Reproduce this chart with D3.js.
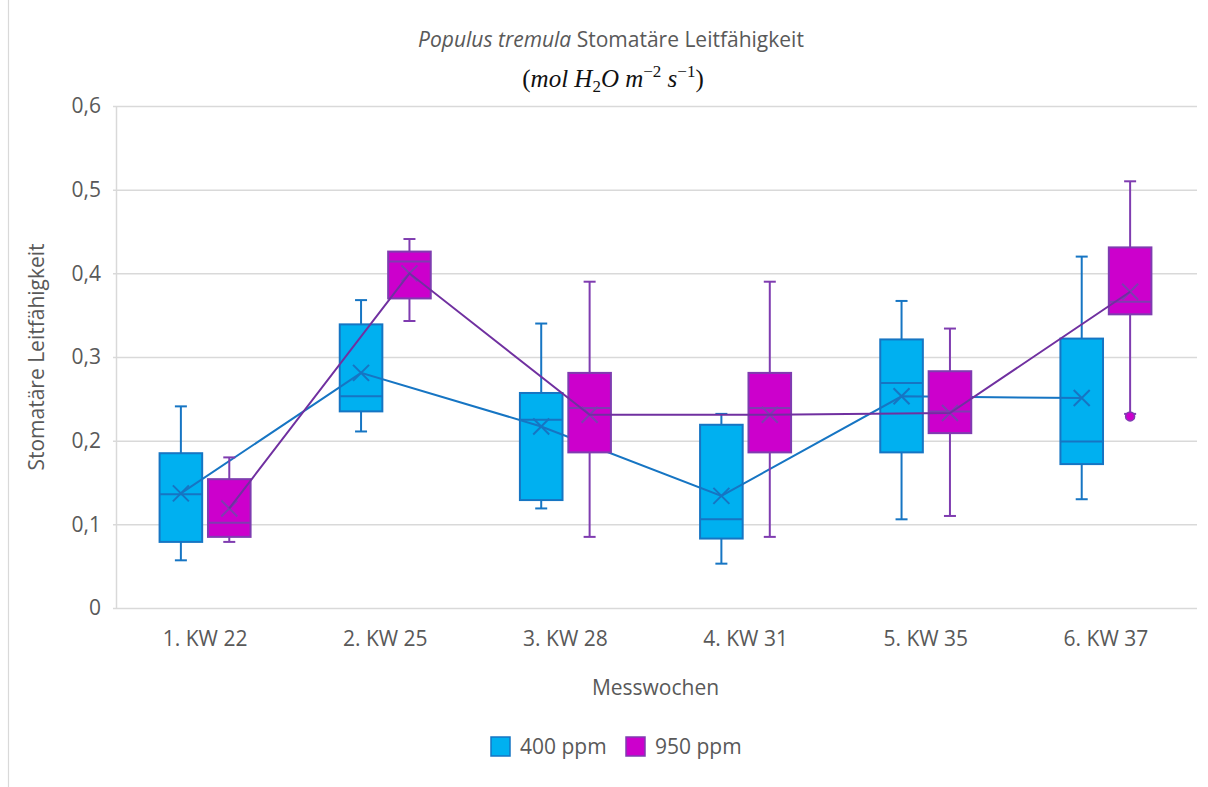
<!DOCTYPE html>
<html>
<head>
<meta charset="utf-8">
<script src="https://cdn.jsdelivr.net/npm/d3@7"></script>
<style>
  html, body { margin: 0; padding: 0; background: #ffffff; }
  svg { display: block; }
  text { font-family: "Open Sans", "Noto Sans", sans-serif; fill: #595959; }
</style>
</head>
<body>
<svg id="chart" width="1208" height="787"></svg>
<script>
// Measurement weeks
const categories = ["1. KW 22", "2. KW 25", "3. KW 28", "4. KW 31", "5. KW 35", "6. KW 37"];
const seriesNames = ["400 ppm", "950 ppm"];
const yTicks = [0, 0.1, 0.2, 0.3, 0.4, 0.5, 0.6];

// 400 ppm: five-number summary and mean per week
const min400    = [0.057, 0.211, 0.119, 0.053, 0.106, 0.130];
const q1_400    = [0.079, 0.235, 0.129, 0.083, 0.186, 0.172];
const median400 = [0.136, 0.253, 0.225, 0.106, 0.269, 0.199];
const q3_400    = [0.185, 0.339, 0.257, 0.219, 0.321, 0.322];
const max400    = [0.241, 0.368, 0.340, 0.232, 0.367, 0.420];
const mean400   = [0.137, 0.281, 0.217, 0.134, 0.253, 0.251];
const outliers400 = [[], [], [], [], [], []];

// 950 ppm
const min950    = [0.079, 0.343, 0.085, 0.085, 0.110, 0.232];
const q1_950    = [0.085, 0.370, 0.186, 0.186, 0.209, 0.351];
const median950 = [0.102, 0.414, 0.239, 0.239, 0.235, 0.366];
const q3_950    = [0.154, 0.426, 0.281, 0.281, 0.283, 0.431];
const max950    = [0.180, 0.441, 0.390, 0.390, 0.334, 0.510];
const mean950   = [0.119, 0.400, 0.231, 0.231, 0.233, 0.378];
const outliers950 = [[], [], [], [], [], [0.229]];

const styles = [
  { fill: "#00B0F0", stroke: "#1675C3", line: "#1675C3" },
  { fill: "#CC00CC", stroke: "#7F3CB0", line: "#7030A0" }
];

const series = [
  { name: seriesNames[0], min: min400, q1: q1_400, med: median400, q3: q3_400, max: max400, mean: mean400, out: outliers400 },
  { name: seriesNames[1], min: min950, q1: q1_950, med: median950, q3: q3_950, max: max950, mean: mean950, out: outliers950 }
];

const svg = d3.select("#chart");
const W = 1208, H = 787;
const plot = { left: 115, right: 1196, top: 106, bottom: 608 };
const FS = 21;

svg.append("rect").attr("width", W).attr("height", H).attr("fill", "#ffffff");
// chart frame edge
svg.append("line").attr("x1", 8.5).attr("x2", 8.5).attr("y1", 0).attr("y2", H)
  .attr("stroke", "#D9D9D9").attr("stroke-width", 1.2);

const x = d3.scaleBand().domain(categories).range([plot.left, plot.right]).paddingInner(0).paddingOuter(0);
const groupW = 91;
const xs = d3.scaleBand().domain(seriesNames).range([0, groupW]).paddingInner(0.12).paddingOuter(0);
const xsOffset = (x.bandwidth() - groupW) / 2;
const y = d3.scaleLinear().domain([0, 0.6]).range([plot.bottom, plot.top]);

const fmt = v => v === 0 ? "0" : d3.format(".1f")(v).replace(".", ",");

// gridlines + y axis
const yAxis = d3.axisLeft(y).tickValues(yTicks).tickFormat(fmt)
  .tickSize(-(plot.right - plot.left + 3)).tickPadding(12);
const gy = svg.append("g").attr("transform", `translate(${plot.left - 2},0)`).call(yAxis);
gy.select(".domain").remove();
gy.selectAll(".tick line").attr("stroke", "#D9D9D9").attr("stroke-width", 1.5);
gy.selectAll(".tick text").attr("font-size", FS).attr("fill", "#595959")
  .style("font-family", "'Open Sans', sans-serif");
// vertical axis line
svg.append("line").attr("x1", plot.left + 1.5).attr("x2", plot.left + 1.5)
  .attr("y1", plot.top).attr("y2", plot.bottom)
  .attr("stroke", "#D9D9D9").attr("stroke-width", 1.5);

// x axis labels
const xAxis = d3.axisBottom(x).tickSize(0).tickPadding(23);
const gx = svg.append("g").attr("transform", `translate(0,${plot.bottom})`).call(xAxis);
gx.select(".domain").remove();
gx.selectAll(".tick text").attr("font-size", FS).attr("fill", "#595959")
  .style("font-family", "'Open Sans', sans-serif");

const boxW = xs.bandwidth();
const cx = (si, i) => x(categories[i]) + xsOffset + xs(seriesNames[si]) + boxW / 2;

function drawSeries(si) {
  const s = series[si], st = styles[si];
  const g = svg.append("g");
  categories.forEach((c, i) => {
    const c0 = cx(si, i);
    const gg = g.append("g");
    // whiskers
    gg.append("line").attr("x1", c0).attr("x2", c0).attr("y1", y(s.max[i])).attr("y2", y(s.q3[i]))
      .attr("stroke", st.stroke).attr("stroke-width", 2);
    gg.append("line").attr("x1", c0).attr("x2", c0).attr("y1", y(s.q1[i])).attr("y2", y(s.min[i]))
      .attr("stroke", st.stroke).attr("stroke-width", 2);
    [s.max[i], s.min[i]].forEach(v => {
      gg.append("line").attr("x1", c0 - 6).attr("x2", c0 + 6).attr("y1", y(v)).attr("y2", y(v))
        .attr("stroke", st.stroke).attr("stroke-width", 2);
    });
    // box
    gg.append("rect").attr("x", c0 - boxW / 2).attr("width", boxW)
      .attr("y", y(s.q3[i])).attr("height", y(s.q1[i]) - y(s.q3[i]))
      .attr("fill", st.fill).attr("stroke", st.stroke).attr("stroke-width", 2);
    // median
    gg.append("line").attr("x1", c0 - boxW / 2).attr("x2", c0 + boxW / 2)
      .attr("y1", y(s.med[i])).attr("y2", y(s.med[i]))
      .attr("stroke", st.stroke).attr("stroke-width", 2);
    // mean marker
    const my = y(s.mean[i]), r = 8;
    gg.append("path").attr("d", `M${c0 - r},${my - r}L${c0 + r},${my + r}M${c0 - r},${my + r}L${c0 + r},${my - r}`)
      .attr("stroke", st.stroke).attr("stroke-width", 2).attr("fill", "none");
    // outliers
    s.out[i].forEach(v => {
      gg.append("circle").attr("cx", c0).attr("cy", y(v)).attr("r", 4.5)
        .attr("fill", st.fill).attr("stroke", st.stroke).attr("stroke-width", 1.5);
    });
  });
  // mean line
  const line = d3.line().x((d, i) => cx(si, i)).y(d => y(d));
  svg.append("path").datum(s.mean).attr("d", line)
    .attr("fill", "none").attr("stroke", st.line).attr("stroke-width", 2);
}
drawSeries(0);
drawSeries(1);

// titles
const title = svg.append("text").attr("x", 611).attr("y", 47).attr("text-anchor", "middle")
  .attr("font-size", FS);
title.append("tspan").attr("font-style", "italic").text("Populus tremula");
title.append("tspan").text(" Stomatäre Leitfähigkeit");

const sub = svg.append("text").attr("x", 613).attr("y", 87).attr("text-anchor", "middle")
  .attr("font-size", 25).style("font-family", "'Liberation Serif', 'DejaVu Serif', serif")
  .style("fill", "#111111");
sub.append("tspan").text("(");
sub.append("tspan").attr("font-style", "italic").text("mol H");
sub.append("tspan").attr("font-size", 17).attr("dy", 5).text("2");
sub.append("tspan").attr("font-style", "italic").attr("dy", -5).text("O m");
sub.append("tspan").attr("font-size", 17).attr("dy", -10).text("−2");
sub.append("tspan").attr("font-style", "italic").attr("dy", 10).text(" s");
sub.append("tspan").attr("font-size", 17).attr("dy", -10).text("−1");
sub.append("tspan").attr("dy", 10).text(")");

svg.append("text").attr("transform", `translate(44,${(plot.top + plot.bottom) / 2}) rotate(-90)`)
  .attr("text-anchor", "middle").attr("font-size", FS).text("Stomatäre Leitfähigkeit");

svg.append("text").attr("x", (plot.left + plot.right) / 2).attr("y", 695)
  .attr("text-anchor", "middle").attr("font-size", FS).text("Messwochen");

// legend
const legend = svg.append("g");
const legendX = [491, 626];
seriesNames.forEach((n, si) => {
  legend.append("rect").attr("x", legendX[si]).attr("y", 737).attr("width", 19).attr("height", 19)
    .attr("fill", styles[si].fill).attr("stroke", styles[si].stroke).attr("stroke-width", 1.5);
  legend.append("text").attr("x", legendX[si] + 29).attr("y", 754).attr("font-size", FS).text(n);
});
</script>
</body>
</html>
